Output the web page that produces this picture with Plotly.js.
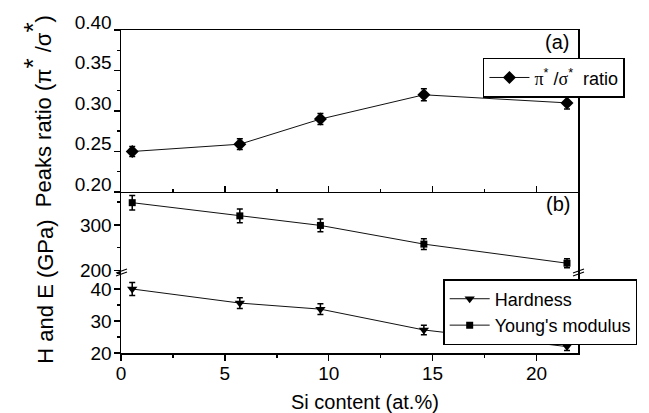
<!DOCTYPE html>
<html>
<head>
<meta charset="utf-8">
<script src="https://cdn.plot.ly/plotly-3.0.1.min.js"></script>
<style>body{margin:0;padding:0;background:#fff}#chart{width:649px;height:413px}</style>
</head>
<body>
<div id="chart"></div>
<script>
// Si content (at.%)
const siContent = [0.54, 5.72, 9.6, 14.58, 21.47];
// (a) pi*/sigma* peaks ratio
const peakRatio = [0.250, 0.259, 0.290, 0.320, 0.310];
const peakRatioErr = [0.0062, 0.0066, 0.0068, 0.0074, 0.0074];
// (b) Young's modulus (GPa)
const youngModulus = [349, 320, 299, 258, 216];
const youngErr = [16, 15, 14, 12, 10];
// (b) Hardness (GPa)
const hardness = [40.0, 35.6, 33.7, 27.2, 22.0];
const hardnessErr = [2.0, 1.7, 1.7, 1.5, 1.2];

const FONT = 'Liberation Sans, Arial, Helvetica, sans-serif';
const SERIF = 'Liberation Serif, Times New Roman, serif';
const errStyle = (arr) => ({type: 'data', array: arr, visible: true, color: '#000', thickness: 1.5, width: 3});

const traces = [
  {
    x: siContent, y: peakRatio, xaxis: 'x3', yaxis: 'y3', type: 'scatter', mode: 'lines+markers',
    name: '<span style="font-family:' + SERIF + '">π</span><sup>*</sup> /<span style="font-family:' + SERIF + '">σ</span><sup>*</sup>  ratio',
    line: {color: '#111', width: 1},
    marker: {symbol: 'diamond', size: 10, color: '#000'},
    error_y: errStyle(peakRatioErr),
    legend: 'legend'
  },
  {
    x: siContent, y: hardness, xaxis: 'x', yaxis: 'y', type: 'scatter', mode: 'lines+markers',
    name: 'Hardness',
    line: {color: '#111', width: 1},
    marker: {symbol: 'triangle-down', size: 9, color: '#000'},
    error_y: errStyle(hardnessErr),
    legend: 'legend2'
  },
  {
    x: siContent, y: youngModulus, xaxis: 'x', yaxis: 'y2', type: 'scatter', mode: 'lines+markers',
    name: "Young's modulus",
    line: {color: '#111', width: 1},
    marker: {symbol: 'square', size: 7, color: '#000'},
    error_y: errStyle(youngErr),
    legend: 'legend2'
  }
];

const D1 = 0.2477, D2 = 0.4985;
const axCommon = {
  showline: true, linecolor: '#000', linewidth: 1.5, showgrid: false, zeroline: false,
  ticks: 'outside', ticklen: 6, tickwidth: 1.5, tickcolor: '#000',
  tickfont: {family: FONT, size: 19, color: '#000'}
};

const layout = {
  width: 649, height: 413,
  margin: {l: 121, r: 71, t: 30, b: 60, pad: 0, autoexpand: false},
  paper_bgcolor: '#fff', plot_bgcolor: '#fff',
  font: {family: FONT, color: '#000'},
  xaxis: Object.assign({}, axCommon, {
    domain: [0, 1], anchor: 'y', range: [0, 22], tick0: 0, dtick: 5, ticklabelstandoff: -3,
    minor: {dtick: 2.5, ticklen: 3, ticks: 'outside', tickcolor: '#000', tickwidth: 1.5}
  }),
  xaxis3: Object.assign({}, axCommon, {
    domain: [0, 1], anchor: 'y3', matches: 'x', range: [0, 22], tick0: 0, dtick: 5,
    showticklabels: false, ticks: 'inside', mirror: true,
    minor: {dtick: 2.5, ticklen: 3, ticks: 'inside', tickcolor: '#000', tickwidth: 1.5}
  }),
  yaxis: Object.assign({}, axCommon, {
    domain: [0, D1], anchor: 'x', range: [20, 45], tick0: 0, dtick: 10, mirror: true, ticklabelstandoff: -2,
    minor: {dtick: 5, ticklen: 3, ticks: 'outside', tickcolor: '#000', tickwidth: 1.5}
  }),
  yaxis2: Object.assign({}, axCommon, {
    domain: [D1, D2], anchor: 'x', range: [194.5, 372.5], tick0: 0, dtick: 100, mirror: true, ticklabelstandoff: -2,
    minor: {dtick: 50, ticklen: 3, ticks: 'outside', tickcolor: '#000', tickwidth: 1.5}
  }),
  yaxis3: Object.assign({}, axCommon, {
    domain: [D2, 1], anchor: 'x3', range: [0.2, 0.4], tick0: 0, dtick: 0.05, tickformat: '.2f',
    mirror: true, ticklabelshift: -8, ticklabelstandoff: -2,
    minor: {dtick: 0.025, ticklen: 3, ticks: 'outside', tickcolor: '#000', tickwidth: 1.5}
  }),
  legend: {
    x: 0.792, y: 0.914, xanchor: 'left', yanchor: 'top',
    bgcolor: '#fff', bordercolor: '#000', borderwidth: 1.5,
    font: {family: FONT, size: 18, color: '#000'}, itemwidth: 40, tracegroupgap: 0
  },
  legend2: {
    x: 0.705, y: 0.229, xanchor: 'left', yanchor: 'top',
    bgcolor: '#fff', bordercolor: '#000', borderwidth: 1.5,
    font: {family: FONT, size: 18, color: '#000'}, itemwidth: 40, tracegroupgap: 0
  },
  annotations: [
    {text: 'Si content (at.%)', xref: 'paper', yref: 'paper', x: 0.534, y: -0.152,
     xanchor: 'center', yanchor: 'middle', showarrow: false, font: {family: FONT, size: 20, color: '#000'}},
    {text: '(a)', xref: 'paper', yref: 'paper', x: 0.954, y: 0.963, xanchor: 'center', yanchor: 'middle',
     showarrow: false, font: {family: FONT, size: 20, color: '#000'}},
    {text: '(b)', xref: 'paper', yref: 'paper', x: 0.956, y: 0.461, xanchor: 'center', yanchor: 'middle',
     showarrow: false, font: {family: FONT, size: 20, color: '#000'}},
    {text: 'H and E (GPa)', xref: 'paper', yref: 'paper', x: -0.164, y: 0.19, textangle: -90,
     xanchor: 'center', yanchor: 'middle',
     showarrow: false, font: {family: FONT, size: 22, color: '#000'}},
    {text: 'Peaks ratio (π<sup><span style="font-size:26px">*</span></sup> /σ<sup><span style="font-size:26px">*</span></sup>)',
     xref: 'paper', yref: 'paper', x: -0.185, y: 0.75, textangle: -90,
     xanchor: 'center', yanchor: 'middle',
     showarrow: false, font: {family: FONT, size: 22, color: '#000'}}
  ],
  shapes: [
    {type: 'line', xref: 'paper', yref: 'paper', xsizemode: 'pixel', ysizemode: 'pixel',
     xanchor: 0, yanchor: D1, x0: -5, x1: 6, y0: -3, y1: 1, line: {color: '#000', width: 1.2}},
    {type: 'line', xref: 'paper', yref: 'paper', xsizemode: 'pixel', ysizemode: 'pixel',
     xanchor: 0, yanchor: D1, x0: -5, x1: 6, y0: 0, y1: 4, line: {color: '#000', width: 1.2}},
    {type: 'line', xref: 'paper', yref: 'paper', xsizemode: 'pixel', ysizemode: 'pixel',
     xanchor: 1, yanchor: D1, x0: -5, x1: 6, y0: -3, y1: 1, line: {color: '#000', width: 1.2}},
    {type: 'line', xref: 'paper', yref: 'paper', xsizemode: 'pixel', ysizemode: 'pixel',
     xanchor: 1, yanchor: D1, x0: -5, x1: 6, y0: 0, y1: 4, line: {color: '#000', width: 1.2}}
  ],
  showlegend: true
};

Plotly.newPlot('chart', traces, layout, {displayModeBar: false, staticPlot: true});
</script>
</body>
</html>
